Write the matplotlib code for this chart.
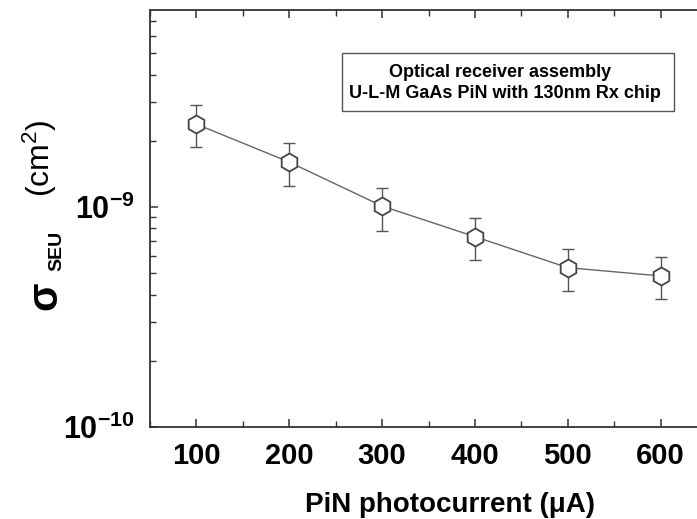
import math
import matplotlib
matplotlib.use("Agg")
import matplotlib.pyplot as plt
from matplotlib.ticker import LogLocator, FixedLocator, MultipleLocator, FuncFormatter, NullFormatter
from matplotlib.patches import Rectangle

plt.rcParams['font.family'] = ['Liberation Sans', 'DejaVu Sans']
plt.rcParams['mathtext.fontset'] = 'custom'
plt.rcParams['mathtext.rm'] = 'Liberation Sans'
plt.rcParams['mathtext.bf'] = 'Liberation Sans:bold'
plt.rcParams['mathtext.it'] = 'Liberation Sans:italic'

# Data
photocurrent = [100, 200, 300, 400, 500, 600]
sigma = [2.38e-9, 1.60e-9, 1.01e-9, 0.733e-9, 0.530e-9, 0.486e-9]
err_hi = [2.91e-9, 1.96e-9, 1.224e-9, 0.894e-9, 0.642e-9, 0.593e-9]
err_lo = [1.87e-9, 1.246e-9, 0.78e-9, 0.574e-9, 0.415e-9, 0.380e-9]
xticks = [100, 200, 300, 400, 500, 600]
yticks = [1e-10, 1e-9]
legend_lines = ["Optical receiver assembly", "U-L-M GaAs PiN with 130nm Rx chip"]

W, H = 697, 519
fig = plt.figure(figsize=(W / 100, H / 100), dpi=100)
ax = fig.add_axes([150 / W, 1 - 427 / H, (707 - 150) / W, (427 - 10) / H])
ax.set_yscale('log')
ax.set_xlim(50, 650)
ax.set_ylim(1e-10, 7.86e-9)

yerr = [[s - l for s, l in zip(sigma, err_lo)], [h - s for s, h in zip(sigma, err_hi)]]
ax.errorbar(photocurrent, sigma, yerr=yerr, fmt='none', ecolor='#555555',
            elinewidth=1.0, capsize=4, capthick=1.0, zorder=2)
ax.plot(photocurrent, sigma, color='#666666', lw=1.0, zorder=3)
ax.plot(photocurrent, sigma, ls='none', marker='h', markersize=13,
        markerfacecolor='white', markeredgecolor='#444444', markeredgewidth=1.3, zorder=4)

ax.xaxis.set_major_locator(FixedLocator(xticks))
ax.xaxis.set_minor_locator(MultipleLocator(50))
ax.yaxis.set_major_locator(FixedLocator(yticks))
ax.yaxis.set_minor_locator(LogLocator(base=10, subs=range(2, 10)))
ax.yaxis.set_minor_formatter(NullFormatter())
ax.xaxis.set_minor_formatter(NullFormatter())

ax.xaxis.set_major_formatter(FuncFormatter(lambda v, p: f"{int(v)}"))
def yfmt(v, p):
    e = int(round(math.log10(v)))
    return r'$\mathbf{10^{%d}}$' % e
ax.yaxis.set_major_formatter(FuncFormatter(yfmt))

ax.tick_params(axis='both', which='both', direction='in', top=True, right=True,
               color='#333333')
ax.tick_params(axis='both', which='major', length=6, width=1.1)
ax.tick_params(axis='both', which='minor', length=4, width=1.0)
ax.tick_params(axis='x', which='major', labelsize=21, pad=11)
ax.tick_params(axis='y', which='major', labelsize=22, pad=11)
for lab in ax.get_xticklabels():
    lab.set_fontweight('bold')
for sp in ax.spines.values():
    sp.set_linewidth(1.3)
    sp.set_color('#333333')

# x label
fig.text(450 / W, 1 - 512 / H, 'PiN photocurrent (μA)', ha='center', va='baseline',
         fontsize=20, fontweight='bold')

# y label pieces
fig.text(47 / W, 1 - 297 / H, r'$\mathbf{\sigma}$', rotation=90, ha='center', va='center',
         fontsize=30, fontweight='bold')
fig.text(57 / W, 1 - 251 / H, 'SEU', rotation=90, ha='center', va='center',
         fontsize=14, fontweight='bold')
fig.text(40 / W, 1 - 158 / H, r'(cm$^2$)', rotation=90, ha='center', va='center',
         fontsize=23)

# annotation box
fig.patches.append(Rectangle((342 / W, 1 - 111 / H), (674 - 342) / W, (111 - 53) / H,
                             transform=fig.transFigure, facecolor='white',
                             edgecolor='#555555', lw=1.0, zorder=5))
fig.text(500 / W, 1 - 76.7 / H, legend_lines[0], ha='center', va='baseline',
         fontsize=13, fontweight='bold', zorder=6)
fig.text(505 / W, 1 - 98.3 / H, legend_lines[1], ha='center', va='baseline',
         fontsize=13, fontweight='bold', zorder=6)

fig.savefig('out.png', dpi=100)
